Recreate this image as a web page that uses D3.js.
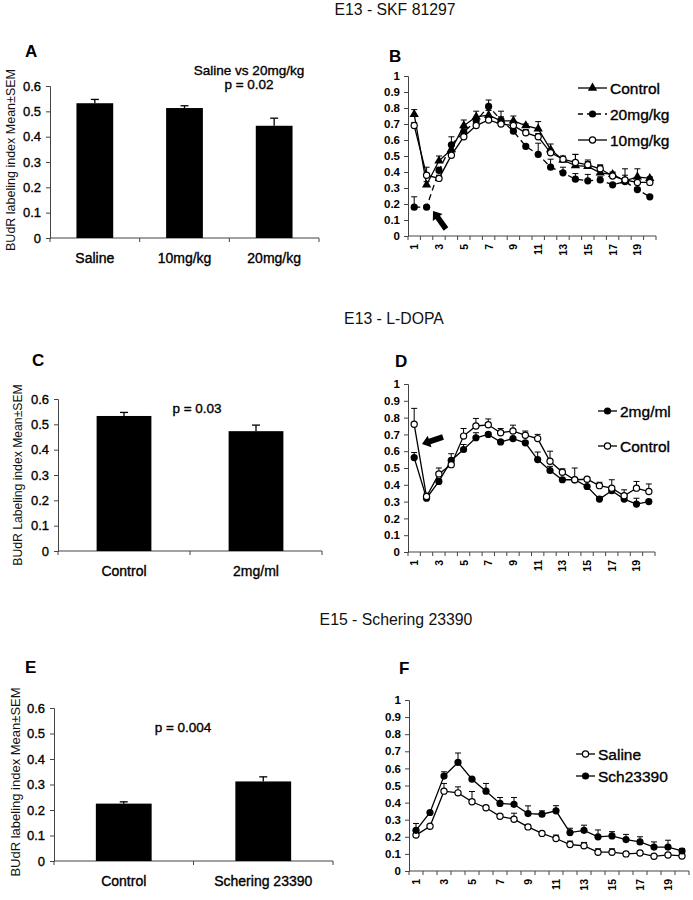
<!DOCTYPE html>
<html><head><meta charset="utf-8">
<script src="https://cdn.jsdelivr.net/npm/d3@7"></script>
<style>
body{margin:0;background:#fff;}
svg{font-family:"Liberation Sans",Arial,sans-serif;}
.t{stroke:#000;stroke-width:0.35px;fill:#000;}
</style></head>
<body><svg id="chart" width="693" height="900"></svg>
<script>
// ---------- DATA ----------
const titles = ["E13 - SKF 81297", "E13 - L-DOPA", "E15 - Schering 23390"];
const panelLetters = ["A","B","C","D","E","F"];

const catsA = ["Saline", "10mg/kg", "20mg/kg"];
const valsA = [0.532, 0.513, 0.443];
const errA  = [0.015, 0.009, 0.030];
const noteA = ["Saline vs 20mg/kg", "p = 0.02"];

const catsC = ["Control", "2mg/ml"];
const valsC = [0.533, 0.473];
const errC  = [0.014, 0.024];
const noteC = ["p = 0.03"];

const catsE = ["Control", "Schering 23390"];
const valsE = [0.225, 0.312];
const errE  = [0.007, 0.018];
const noteE = ["p = 0.004"];

const barTicks = [0, 0.1, 0.2, 0.3, 0.4, 0.5, 0.6];
const lineTicks = [0, 0.1, 0.2, 0.3, 0.4, 0.5, 0.6, 0.7, 0.8, 0.9, 1];
const bins = d3.range(1, 21);
const binLabels = [1, 3, 5, 7, 9, 11, 13, 15, 17, 19];

// Panel B
const ctrlB = [0.76,0.32,0.47,0.54,0.69,0.745,0.755,0.72,0.72,0.69,0.67,0.54,0.475,0.44,0.435,0.395,0.385,0.345,0.37,0.36];
const ctrlBErr = [0.03,0.02,0.03,0.03,0.035,0.035,0.03,0.06,0.03,0.01,0.045,0.035,0.015,0.07,0.04,0.05,0.015,0.075,0.05,0.01];
const mg20B = [0.18,0.18,0.41,0.57,0.65,0.72,0.81,0.725,0.655,0.56,0.51,0.43,0.395,0.355,0.345,0.35,0.32,0.34,0.29,0.245];
const mg20BErr = [0.065,0.01,0.02,0.05,0.02,0.02,0.04,0.02,0.02,0.01,0.07,0.05,0.035,0.035,0.04,0.02,0.01,0.02,0.01,0.01];
const mg10B = [0.69,0.38,0.36,0.505,0.62,0.69,0.725,0.70,0.69,0.645,0.62,0.52,0.48,0.46,0.445,0.42,0.375,0.35,0.335,0.335];
const mg10BErr = [0.02,0.05,0.02,0.02,0.02,0.02,0.02,0.02,0.02,0.02,0.02,0.02,0.02,0.05,0.02,0.02,0.02,0.03,0.03,0.03];

// Panel D
const mg2D = [0.562,0.32,0.42,0.545,0.61,0.68,0.70,0.655,0.675,0.65,0.55,0.485,0.43,0.43,0.39,0.315,0.365,0.315,0.285,0.30];
const mg2DErr = [0.03,0.01,0.01,0.04,0.03,0.03,0.01,0.01,0.01,0.01,0.045,0.025,0.01,0.01,0.01,0.015,0.01,0.02,0.035,0.01];
const ctrlD = [0.76,0.33,0.465,0.52,0.69,0.75,0.757,0.71,0.72,0.695,0.675,0.54,0.475,0.43,0.433,0.395,0.38,0.335,0.38,0.36];
const ctrlDErr = [0.095,0.02,0.035,0.02,0.045,0.045,0.035,0.025,0.035,0.025,0.025,0.06,0.02,0.07,0.01,0.02,0.05,0.035,0.04,0.045];

// Panel F
const salF = [0.21,0.262,0.467,0.457,0.405,0.37,0.32,0.303,0.258,0.22,0.19,0.155,0.147,0.11,0.11,0.10,0.105,0.086,0.094,0.088];
const salFErr = [0.01,0.01,0.045,0.035,0.06,0.01,0.01,0.035,0.01,0.01,0.02,0.02,0.02,0.02,0.02,0.01,0.01,0.01,0.01,0.01];
const schF = [0.238,0.342,0.555,0.635,0.537,0.467,0.395,0.39,0.336,0.332,0.352,0.225,0.238,0.2,0.205,0.184,0.17,0.14,0.14,0.117];
const schFErr = [0.04,0.01,0.025,0.055,0.01,0.045,0.035,0.04,0.045,0.02,0.03,0.025,0.03,0.04,0.025,0.03,0.03,0.03,0.04,0.015];

// ---------- DRAW ----------
const svg = d3.select("#chart");
const AX = "#444";

// titles
[[395,15],[394,324],[396,625]].forEach((p,i)=>{
  svg.append("text").attr("x",p[0]).attr("y",p[1]).attr("text-anchor","middle")
    .attr("font-size",15.8).attr("fill","#111").text(titles[i]);
});

function letter(x,y,t){
  svg.append("text").attr("x",x).attr("y",y).attr("font-size",17).attr("font-weight","bold").text(t);
}

function barChart(o){
  const x = d3.scaleBand().domain(o.cats).range([o.x0,o.x1]);
  const y = d3.scaleLinear().domain([0,0.6]).range([o.y0,o.yTop]);
  const g = svg.append("g");
  const ya = g.append("g").attr("transform",`translate(${o.x0},0)`)
    .call(d3.axisLeft(y).tickValues(barTicks).tickFormat(d=>d===0?"0":d3.format(".1f")(d)).tickSize(4).tickPadding(5));
  ya.select(".domain").attr("stroke",AX);
  ya.selectAll(".tick line").attr("stroke",AX);
  ya.selectAll("text").attr("font-size",13).attr("font-family","Liberation Sans, Arial").attr("class","t");
  g.append("line").attr("x1",o.x0).attr("x2",o.x1).attr("y1",o.y0).attr("y2",o.y0).attr("stroke",AX);
  const bounds = o.cats.map(c=>x(c)).concat([o.x1]);
  g.selectAll(".bt").data(bounds).enter().append("line")
    .attr("x1",d=>d).attr("x2",d=>d).attr("y1",o.y0).attr("y2",o.y0+4).attr("stroke",AX);
  const bw = x.bandwidth()*o.frac;
  const mid = i=>x(o.cats[i])+x.bandwidth()/2;
  g.selectAll(".eb").data(o.vals).enter().append("line")
    .attr("x1",(d,i)=>mid(i)).attr("x2",(d,i)=>mid(i))
    .attr("y1",d=>y(d)).attr("y2",(d,i)=>y(d+o.err[i])).attr("stroke","#000").attr("stroke-width",1.3);
  g.selectAll(".ec").data(o.vals).enter().append("line")
    .attr("x1",(d,i)=>mid(i)-4).attr("x2",(d,i)=>mid(i)+4)
    .attr("y1",(d,i)=>y(d+o.err[i])).attr("y2",(d,i)=>y(d+o.err[i])).attr("stroke","#000").attr("stroke-width",1.3);
  g.selectAll(".bar").data(o.vals).enter().append("rect")
    .attr("x",(d,i)=>x(o.cats[i])+(x.bandwidth()-bw)/2).attr("width",bw)
    .attr("y",d=>y(d)).attr("height",d=>o.y0-y(d)).attr("fill","#000");
  g.selectAll(".cl").data(o.cats).enter().append("text")
    .attr("x",d=>x(d)+x.bandwidth()/2).attr("y",o.y0+25).attr("text-anchor","middle")
    .attr("font-size",14).attr("class","t").text(d=>d);
  g.append("text").attr("transform",`translate(${o.labX},${o.labY}) rotate(-90)`)
    .attr("text-anchor","middle").attr("font-size",o.labSize).attr("fill","#111").text(o.ylab);
  o.note.forEach((t,i)=>{
    g.append("text").attr("x",o.noteX).attr("y",o.noteY+i*14).attr("text-anchor","middle")
      .attr("font-size",13.5).attr("class","t").text(t);
  });
}

function marker(g, type, cx, cy){
  if(type==="tri"){
    g.append("path").attr("d",d3.symbol(d3.symbolTriangle,38)()).attr("transform",`translate(${cx},${cy})`).attr("fill","#000");
  } else if(type==="fill"){
    g.append("circle").attr("cx",cx).attr("cy",cy).attr("r",3.6).attr("fill","#000");
  } else {
    g.append("circle").attr("cx",cx).attr("cy",cy).attr("r",3.1).attr("fill","#fff").attr("stroke","#000").attr("stroke-width",1.2);
  }
}

function lineChart(o){
  const x = d3.scaleBand().domain(bins).range([o.x0,o.x1]);
  const cx = d=>x(d)+x.bandwidth()/2;
  const y = d3.scaleLinear().domain([0,1]).range([o.y0,o.yTop]);
  const g = svg.append("g");
  const ya = g.append("g").attr("transform",`translate(${o.x0},0)`)
    .call(d3.axisLeft(y).tickValues(lineTicks).tickFormat(d=>(d===0||d===1)?String(d):d3.format(".1f")(d)).tickSize(4).tickPadding(4));
  ya.select(".domain").attr("stroke",AX);
  ya.selectAll(".tick line").attr("stroke",AX);
  ya.selectAll("text").attr("font-size",11.5).attr("font-family","Liberation Sans, Arial").attr("fill","#000").attr("font-weight","bold");
  g.append("line").attr("x1",o.x0).attr("x2",o.x1).attr("y1",o.y0).attr("y2",o.y0).attr("stroke",AX);
  const bounds = bins.map(b=>x(b)).concat([o.x1]);
  g.selectAll(".bt").data(bounds).enter().append("line")
    .attr("x1",d=>d).attr("x2",d=>d).attr("y1",o.y0).attr("y2",o.y0+4).attr("stroke",AX);
  g.selectAll(".xl").data(binLabels).enter().append("text")
    .attr("transform",d=>`translate(${cx(d)+4},${o.y0+8}) rotate(-90)`)
    .attr("text-anchor","end").attr("font-size",10.5).attr("font-weight","bold").text(d=>d);
  o.series.forEach(s=>{
    s.vals.forEach((v,i)=>{
      const xx = cx(bins[i]), yt = y(v+s.err[i]);
      g.append("line").attr("x1",xx).attr("x2",xx).attr("y1",y(v)).attr("y2",yt).attr("stroke","#000").attr("stroke-width",1);
      g.append("line").attr("x1",xx-3).attr("x2",xx+3).attr("y1",yt).attr("y2",yt).attr("stroke","#000").attr("stroke-width",1);
    });
    const line = d3.line().x((d,i)=>cx(bins[i])).y(d=>y(d));
    g.append("path").datum(s.vals).attr("d",line).attr("fill","none").attr("stroke","#000")
      .attr("stroke-width",1.3).attr("stroke-dasharray",s.dash?"6,4":null);
  });
  o.series.forEach(s=>{
    s.vals.forEach((v,i)=>marker(g, s.mark, cx(bins[i]), y(v)));
  });
  o.series.forEach((s,i)=>{
    const ly = o.legY + i*o.legGap;
    g.append("line").attr("x1",o.legX).attr("x2",o.legX+o.legLen).attr("y1",ly).attr("y2",ly)
      .attr("stroke","#000").attr("stroke-width",1.3).attr("stroke-dasharray",s.dash?"5,4":null);
    marker(g, s.mark, o.legX+o.legLen/2, ly);
    g.append("text").attr("x",o.legX+o.legLen+3).attr("y",ly+5.5).attr("font-size",15.5).attr("class","t").text(s.name);
  });
}

function arrow(x1,y1,x2,y2){
  const ang = Math.atan2(y2-y1,x2-x1)*180/Math.PI;
  const len = Math.hypot(x2-x1,y2-y1);
  const g = svg.append("g").attr("transform",`translate(${x1},${y1}) rotate(${ang})`);
  g.append("path").attr("d",`M0,-2.8 L${len-8},-2.8 L${len-8},-6 L${len},0 L${len-8},6 L${len-8},2.8 L0,2.8 Z`).attr("fill","#000");
}

// Panel A
letter(25,57,panelLetters[0]);
barChart({cats:catsA, vals:valsA, err:errA, x0:50, x1:319, y0:238, yTop:86, frac:0.41,
  ylab:"BUdR labeling index Mean±SEM", labX:14.5, labY:160, labSize:12.5, note:noteA, noteX:249, noteY:75});

// Panel C
letter(32,366,panelLetters[2]);
barChart({cats:catsC, vals:valsC, err:errC, x0:58, x1:322, y0:551, yTop:399, frac:0.415,
  ylab:"BUdR Labeling index Mean±SEM", labX:21.5, labY:475, labSize:12.2, note:noteC, noteX:197, noteY:413});

// Panel E
letter(25,673,panelLetters[4]);
barChart({cats:catsE, vals:valsE, err:errE, x0:54, x1:333, y0:861, yTop:708, frac:0.40,
  ylab:"BUdR labeling index Mean±SEM", labX:19.5, labY:782, labSize:13, note:noteE, noteX:183, noteY:732});

// Panel B
letter(389,62,panelLetters[1]);
lineChart({x0:408, x1:656, y0:236, yTop:76,
  series:[
    {name:"Control", vals:ctrlB, err:ctrlBErr, mark:"tri", dash:false},
    {name:"20mg/kg", vals:mg20B, err:mg20BErr, mark:"fill", dash:true},
    {name:"10mg/kg", vals:mg10B, err:mg10BErr, mark:"open", dash:false}
  ],
  legX:578, legLen:29, legY:88, legGap:26});
arrow(446,229,433,211);

// Panel D
letter(395,367,panelLetters[3]);
lineChart({x0:408, x1:655, y0:552, yTop:384,
  series:[
    {name:"2mg/ml", vals:mg2D, err:mg2DErr, mark:"fill", dash:false},
    {name:"Control", vals:ctrlD, err:ctrlDErr, mark:"open", dash:false}
  ],
  legX:598, legLen:19, legY:411, legGap:35});
arrow(443,437,422,444);

// Panel F
letter(399,674,panelLetters[5]);
lineChart({x0:409, x1:689, y0:871, yTop:700,
  series:[
    {name:"Saline", vals:salF, err:salFErr, mark:"open", dash:false},
    {name:"Sch23390", vals:schF, err:schFErr, mark:"fill", dash:false}
  ],
  legX:576, legLen:19, legY:754, legGap:22});
</script>
</body></html>
